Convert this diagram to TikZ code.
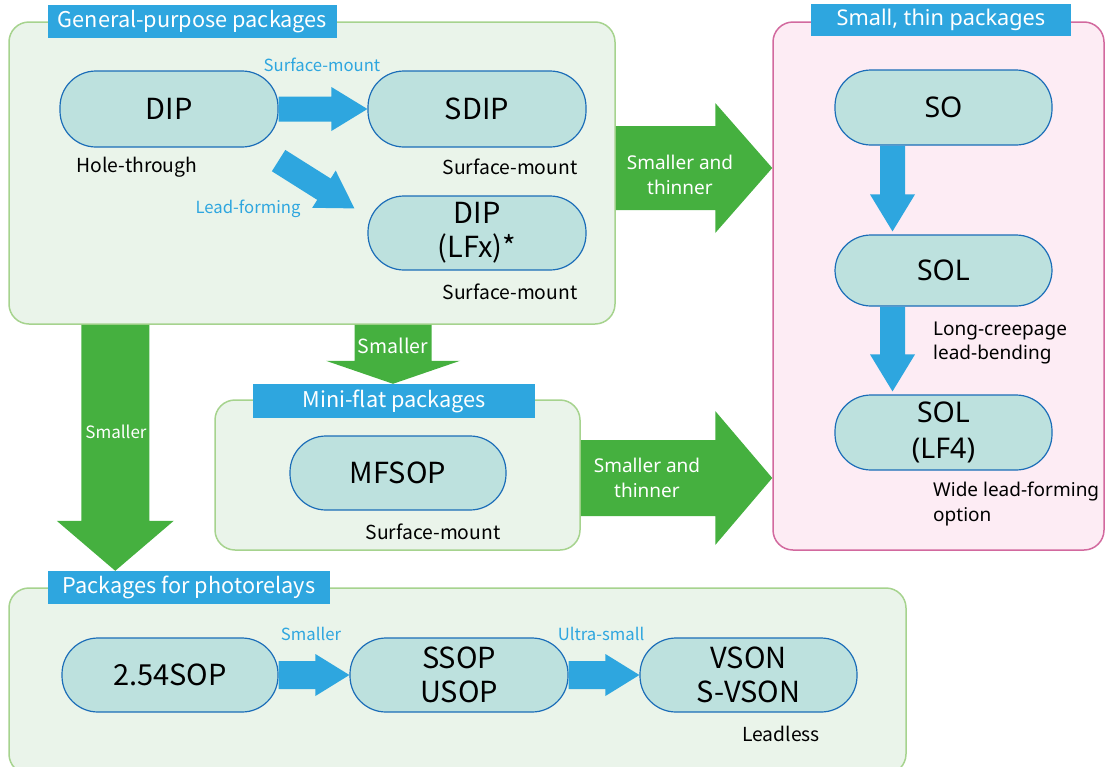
\documentclass[tikz,border=0pt]{standalone}
\usepackage{fontspec}
\setmainfont{Noto Sans CJK JP}
\newfontfamily\widefont{Noto Sans}
\usetikzlibrary{calc}
\definecolor{hdr}{HTML}{2EA6DF}
\definecolor{grn}{HTML}{45B03F}
\definecolor{nfill}{HTML}{BDE1DE}
\definecolor{nborder}{HTML}{1B6DB8}
\definecolor{pfill}{HTML}{EAF4EA}
\definecolor{pborder}{HTML}{A6D38E}
\definecolor{kfill}{HTML}{FDECF4}
\definecolor{kborder}{HTML}{D2699E}
\definecolor{bl}{HTML}{2EA6DF}
% #1 from, #2 to, #3 shaft half width, #4 head half width, #5 head length, #6 colour
\newcommand\blockarrow[6]{%
  \coordinate (ba-h) at ($(#2)!#5!(#1)$);
  \fill[#6] ($(#1)!#3!90:(#2)$) -- ($(ba-h)!#3!90:(#2)$) -- ($(ba-h)!#4!90:(#2)$)
    -- (#2) -- ($(ba-h)!#4!-90:(#2)$) -- ($(ba-h)!#3!-90:(#2)$) -- ($(#1)!#3!-90:(#2)$) -- cycle;
}
\tikzset{
  pkg/.style={draw=nborder, line width=1.2pt, fill=nfill, rounded corners=36pt,
    minimum width=218pt, minimum height=76pt, inner sep=0pt, align=center,
    font=\fontsize{29}{34}\selectfont},
  widepkg/.style={pkg, font=\widefont\fontsize{28.5}{36}\selectfont},
  panel/.style={draw=pborder, line width=1.5pt, fill=pfill, rounded corners=20pt, inner sep=0pt},
  pinkpanel/.style={panel, draw=kborder, fill=kfill},
  hdrbox/.style={fill=hdr, text=white, inner sep=0pt, font=\fontsize{21.7}{24}\selectfont},
  note/.style={font=\fontsize{19.3}{24}\selectfont, inner sep=0pt, align=left},
  widenote/.style={font=\widefont\fontsize{19}{24.5}\selectfont, inner sep=0pt, align=left},
  blbl/.style={text=bl, font=\fontsize{16.7}{18}\selectfont, inner sep=0pt},
  glbl/.style={text=white, font=\widefont\fontsize{19}{25}\selectfont, align=center, inner sep=0pt},
  gsmall/.style={text=white, font=\fontsize{19.5}{22}\selectfont, inner sep=0pt},
}
\begin{document}
\begin{tikzpicture}[x=1pt,y=-1pt]
\useasboundingbox (0,0) rectangle (1105,766);
\clip (0,0) rectangle (1105,766);

% panels
\node[panel, minimum width=606pt, minimum height=302pt] (gen) at (312,173) {};
\node[pinkpanel, minimum width=331pt, minimum height=528pt] (pink) at (938.5,286) {};
\node[panel, minimum width=365pt, minimum height=150pt] (mini) at (397.5,475) {};
\node[panel, minimum width=897pt, minimum height=186pt] (photo) at (457.5,681) {};

% titles
\node[hdrbox, minimum width=289pt, minimum height=33pt] (gentitle) at (192.5,21.5) {General-purpose packages};
\node[hdrbox, font=\widefont\fontsize{21.7}{24}\selectfont, minimum width=260pt, minimum height=32pt] (pinktitle) at (941,20) {Small, thin packages};
\node[hdrbox, minimum width=282pt, minimum height=34pt] (minititle) at (394,401) {Mini-flat packages};
\node[hdrbox, minimum width=282pt, minimum height=33pt] (phototitle) at (189,587.5) {Packages for photorelays};

% package nodes
\node[pkg] (dip) at (169,109) {DIP};
\node[pkg] (sdip) at (477,109) {SDIP};
\node[pkg, minimum height=74pt] (dipfx) at (477,233) {DIP\\(LFx)*};
\node[widepkg, minimum width=217pt, minimum height=75pt] (so) at (943.5,107.5) {SO};
\node[widepkg, minimum width=217pt, minimum height=71pt] (sol) at (943.5,270.5) {SOL};
\node[widepkg, minimum width=217pt, minimum height=75pt] (sollf) at (943.5,432.5) {SOL\\(LF4)};
\node[pkg, minimum width=216pt, minimum height=74pt] (mfsop) at (398,473) {MFSOP};
\node[pkg, minimum width=216pt, minimum height=74pt] (sop) at (170,675) {2.54SOP};
\node[pkg, minimum width=218pt, minimum height=74pt] (ssop) at (459,675) {SSOP\\USOP};
\node[pkg, minimum width=217pt, minimum height=74pt] (vson) at (748.5,675) {VSON\\S-VSON};

% green arrows
\coordinate (g1a) at ($(gen.east)+(0,-5)$);
\coordinate (g1b) at (pink.west |- g1a);
\blockarrow{g1a}{g1b}{42pt}{65pt}{57pt}{grn}
\coordinate (g2a) at ($(mini.east)+(0,3)$);
\coordinate (g2b) at (pink.west |- g2a);
\blockarrow{g2a}{g2b}{38pt}{67pt}{57pt}{grn}
\coordinate (g3a) at ($(gen.south)+(81,0)$);
\coordinate (g3b) at (g3a |- minititle.north);
\blockarrow{g3a}{g3b}{38.5pt}{67pt}{23pt}{grn}
\coordinate (g4a) at ($(gen.south west)+(107,0)$);
\coordinate (g4b) at (g4a |- phototitle.north);
\blockarrow{g4a}{g4b}{34pt}{58.5pt}{50pt}{grn}

% blue arrows
\blockarrow{dip.east}{sdip.west}{12.5pt}{22pt}{36pt}{bl}
\coordinate (d1a) at ($(dip.south east)+(0,13)$);
\coordinate (d1b) at ($(dipfx.north west)+(-13,13)$);
\blockarrow{d1a}{d1b}{12.6pt}{22pt}{36pt}{bl}
\coordinate (s1a) at ($(so.south)+(-51,0)$);
\coordinate (s1b) at ($(s1a |- sol.north)+(0,-3)$);
\blockarrow{s1a}{s1b}{12.5pt}{22.5pt}{37pt}{bl}
\coordinate (s2a) at ($(sol.south)+(-51,0)$);
\coordinate (s2b) at ($(s2a |- sollf.north)+(0,-3)$);
\blockarrow{s2a}{s2b}{12.5pt}{22.5pt}{37pt}{bl}
\blockarrow{sop.east}{ssop.west}{14pt}{21pt}{34pt}{bl}
\blockarrow{ssop.east}{vson.west}{14pt}{21pt}{34pt}{bl}

% labels
\node[blbl] (l1) at (322,65) {Surface-mount};
\node[blbl] (l2) at (248,209) {Lead-forming};
\node[note] (l3) at (137,167) {Hole-through};
\node[note] (l4) at (510,167) {Surface-mount};
\node[note] (l5) at (510,292) {Surface-mount};
\node[glbl] (l6) at (680,175) {Smaller and\\thinner};
\node[gsmall] (l7) at (393,346) {Smaller};
\node[gsmall, font=\fontsize{17}{20}\selectfont] (l8) at (116,432) {Smaller};
\node[note] (l9) at (433,532) {Surface-mount};
\node[glbl] (l10) at (647,478) {Smaller and\\thinner};
\node[widenote, anchor=west] (l11) at (933,343) {Long-creepage\\lead-bending};
\node[widenote, anchor=west] (l12) at (933,504) {Wide lead-forming\\option};
\node[blbl] (l13) at (311,634) {Smaller};
\node[blbl] (l14) at (601,634) {Ultra-small};
\node[note] (l15) at (781,734) {Leadless};
\end{tikzpicture}
\end{document}
